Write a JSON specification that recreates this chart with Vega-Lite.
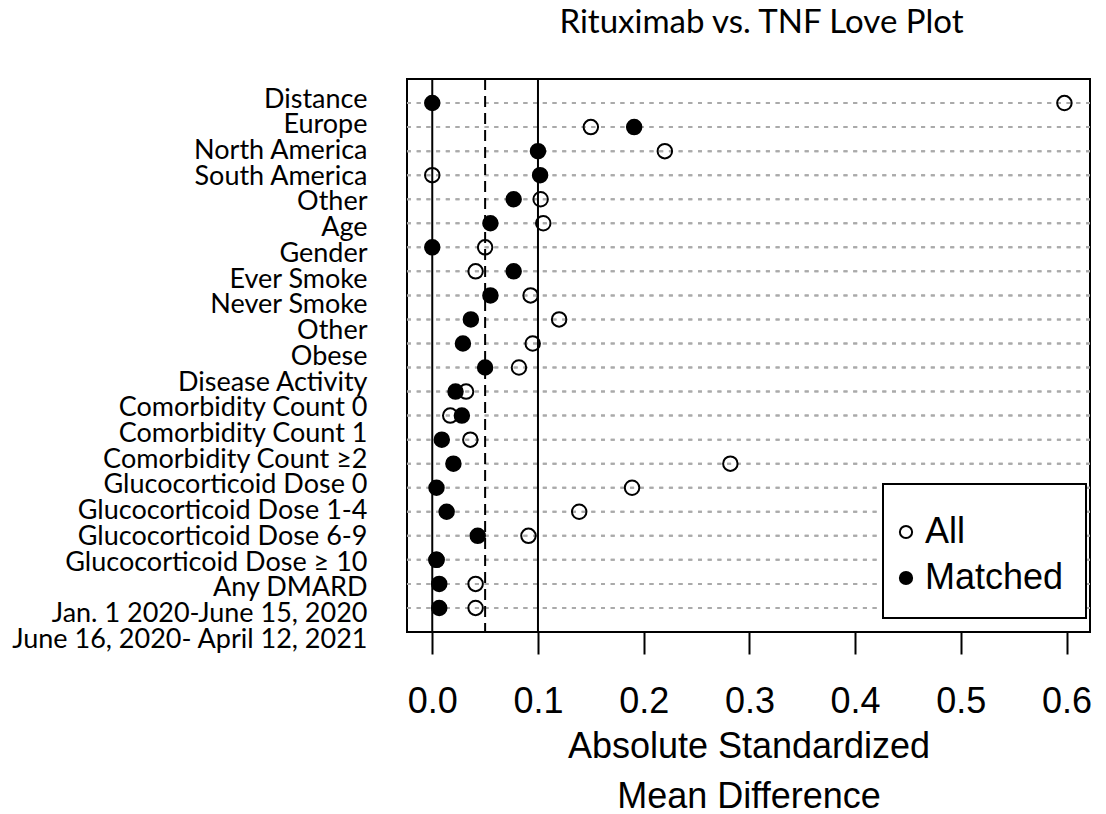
{
  "$schema": "https://vega.github.io/schema/vega-lite/v6.json",
  "width": 683,
  "height": 553,
  "autosize": "none",
  "padding": {"left": 407, "top": 79, "right": 16, "bottom": 182},
  "background": "white",
  "config": {"view": {"stroke": "black", "strokeWidth": 2}, "legend": {"strokeWidth": 2}},
  "title": {"text": "Rituximab vs. TNF Love Plot", "font": "Lato", "fontSize": 33, "fontWeight": "normal", "color": "black", "frame": "group", "anchor": "middle", "dx": 13, "baseline": "alphabetic", "offset": 12},
  "data": {"values": [
    {"variable": "Distance", "group": "All", "smd": 0.598},
    {"variable": "Distance", "group": "Matched", "smd": 0.0},
    {"variable": "Europe", "group": "All", "smd": 0.150},
    {"variable": "Europe", "group": "Matched", "smd": 0.191},
    {"variable": "North America", "group": "All", "smd": 0.220},
    {"variable": "North America", "group": "Matched", "smd": 0.100},
    {"variable": "South America", "group": "All", "smd": 0.0},
    {"variable": "South America", "group": "Matched", "smd": 0.102},
    {"variable": "Other", "group": "All", "smd": 0.1025},
    {"variable": "Other", "group": "Matched", "smd": 0.077},
    {"variable": "Age", "group": "All", "smd": 0.105},
    {"variable": "Age", "group": "Matched", "smd": 0.055},
    {"variable": "Gender", "group": "All", "smd": 0.050},
    {"variable": "Gender", "group": "Matched", "smd": 0.0},
    {"variable": "Ever Smoke", "group": "All", "smd": 0.041},
    {"variable": "Ever Smoke", "group": "Matched", "smd": 0.077},
    {"variable": "Never Smoke", "group": "All", "smd": 0.093},
    {"variable": "Never Smoke", "group": "Matched", "smd": 0.055},
    {"variable": "Other ", "group": "All", "smd": 0.120},
    {"variable": "Other ", "group": "Matched", "smd": 0.0365},
    {"variable": "Obese", "group": "All", "smd": 0.095},
    {"variable": "Obese", "group": "Matched", "smd": 0.029},
    {"variable": "Disease Activity", "group": "All", "smd": 0.082},
    {"variable": "Disease Activity", "group": "Matched", "smd": 0.050},
    {"variable": "Comorbidity Count 0", "group": "All", "smd": 0.032},
    {"variable": "Comorbidity Count 0", "group": "Matched", "smd": 0.022},
    {"variable": "Comorbidity Count 1", "group": "All", "smd": 0.017},
    {"variable": "Comorbidity Count 1", "group": "Matched", "smd": 0.028},
    {"variable": "Comorbidity Count ≥2", "group": "All", "smd": 0.036},
    {"variable": "Comorbidity Count ≥2", "group": "Matched", "smd": 0.009},
    {"variable": "Glucocorticoid Dose 0", "group": "All", "smd": 0.282},
    {"variable": "Glucocorticoid Dose 0", "group": "Matched", "smd": 0.020},
    {"variable": "Glucocorticoid Dose 1-4", "group": "All", "smd": 0.189},
    {"variable": "Glucocorticoid Dose 1-4", "group": "Matched", "smd": 0.004},
    {"variable": "Glucocorticoid Dose 6-9", "group": "All", "smd": 0.139},
    {"variable": "Glucocorticoid Dose 6-9", "group": "Matched", "smd": 0.0136},
    {"variable": "Glucocorticoid Dose ≥ 10", "group": "All", "smd": 0.091},
    {"variable": "Glucocorticoid Dose ≥ 10", "group": "Matched", "smd": 0.043},
    {"variable": "Any DMARD", "group": "All", "smd": 0.004},
    {"variable": "Any DMARD", "group": "Matched", "smd": 0.004},
    {"variable": "Jan. 1 2020-June 15, 2020", "group": "All", "smd": 0.041},
    {"variable": "Jan. 1 2020-June 15, 2020", "group": "Matched", "smd": 0.0066},
    {"variable": "June 16, 2020- April 12, 2021", "group": "All", "smd": 0.041},
    {"variable": "June 16, 2020- April 12, 2021", "group": "Matched", "smd": 0.0066}
  ]},
  "layer": [
    {
      "mark": {"type": "rule", "color": "#aaaaaa", "strokeWidth": 2, "strokeDash": [4, 5.7]},
      "encoding": {
        "y": {"field": "variable", "type": "nominal", "sort": null, "scale": {"type": "point", "padding": 1},
          "axis": {"title": null, "domain": false, "ticks": false, "tickSize": 0, "grid": false, "labelFont": "Lato", "labelFontSize": 27, "labelColor": "black", "labelPadding": 40, "labelOffset": {"expr": "-4 + 35.3*datum.index"}, "labelLimit": 600, "labelOverlap": false}}
      }
    },
    {
      "data": {"values": [{"smd": 0}, {"smd": 0.1}]},
      "mark": {"type": "rule", "color": "black", "strokeWidth": 2},
      "encoding": {
        "x": {"field": "smd", "type": "quantitative", "scale": {"domain": [-0.0239, 0.6222], "nice": false, "zero": false},
          "axis": {"values": [0, 0.1, 0.2, 0.3, 0.4, 0.5, 0.6], "format": ".1f", "title": ["Absolute Standardized", "Mean Difference"], "domain": false, "grid": false, "tickSize": 22, "tickWidth": 2, "tickColor": "black", "labelFont": "Liberation Sans", "labelFontSize": 36, "labelColor": "black", "labelPadding": 30, "labelFlush": false, "labelBound": false, "labelOverlap": false, "titleFont": "Liberation Sans", "titleFontSize": 36, "titleFontWeight": "normal", "titleColor": "black", "titleLineHeight": 50, "titlePadding": 10}}
      }
    },
    {
      "data": {"values": [{"smd": 0.05}]},
      "mark": {"type": "rule", "color": "black", "strokeWidth": 2, "strokeDash": [11, 6]},
      "encoding": {
        "x": {"field": "smd", "type": "quantitative"}
      }
    },
    {
      "mark": {"type": "point", "shape": "circle", "filled": true, "stroke": "black", "strokeWidth": 2, "opacity": 1, "size": 210},
      "encoding": {
        "x": {"field": "smd", "type": "quantitative"},
        "y": {"field": "variable", "type": "nominal", "sort": null},
        "fill": {"field": "group", "type": "nominal", "scale": {"domain": ["All", "Matched"], "range": ["transparent", "black"]},
          "legend": {"title": " ", "titleFontSize": 8, "titlePadding": 0, "orient": "none", "legendX": 476, "legendY": 405, "strokeColor": "black", "fillColor": "white", "padding": 22, "rowPadding": 10, "labelFont": "Liberation Sans", "labelFontSize": 36, "labelColor": "black", "labelOffset": 1, "symbolOffset": -17, "symbolSize": 150, "symbolType": "circle", "symbolStrokeColor": "black", "symbolStrokeWidth": 2}}
      }
    }
  ]
}
